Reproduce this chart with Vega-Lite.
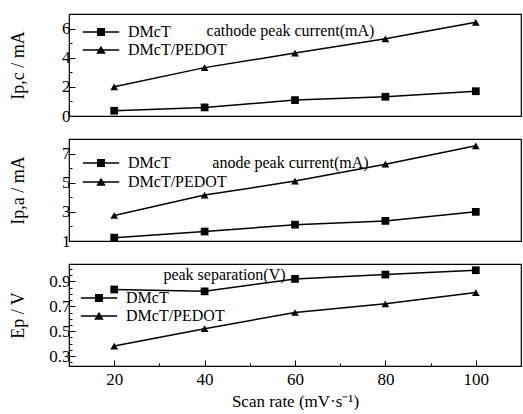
{
  "$schema": "https://vega.github.io/schema/vega-lite/v6.json",
  "background": "white",
  "padding": {"left": 8, "top": 13, "right": 0, "bottom": 0},
  "spacing": 13,
  "datasets": {
    "cathode": [
      {"series": "DMcT", "rate": 20, "value": 0.36},
      {"series": "DMcT", "rate": 40, "value": 0.59},
      {"series": "DMcT", "rate": 60, "value": 1.09},
      {"series": "DMcT", "rate": 80, "value": 1.32},
      {"series": "DMcT", "rate": 100, "value": 1.7},
      {"series": "DMcT/PEDOT", "rate": 20, "value": 2.0},
      {"series": "DMcT/PEDOT", "rate": 40, "value": 3.32},
      {"series": "DMcT/PEDOT", "rate": 60, "value": 4.32},
      {"series": "DMcT/PEDOT", "rate": 80, "value": 5.3},
      {"series": "DMcT/PEDOT", "rate": 100, "value": 6.43}
    ],
    "anode": [
      {"series": "DMcT", "rate": 20, "value": 1.23},
      {"series": "DMcT", "rate": 40, "value": 1.65},
      {"series": "DMcT", "rate": 60, "value": 2.12},
      {"series": "DMcT", "rate": 80, "value": 2.38},
      {"series": "DMcT", "rate": 100, "value": 3.0},
      {"series": "DMcT/PEDOT", "rate": 20, "value": 2.75},
      {"series": "DMcT/PEDOT", "rate": 40, "value": 4.15},
      {"series": "DMcT/PEDOT", "rate": 60, "value": 5.11},
      {"series": "DMcT/PEDOT", "rate": 80, "value": 6.27},
      {"series": "DMcT/PEDOT", "rate": 100, "value": 7.53}
    ],
    "sep": [
      {"series": "DMcT", "rate": 20, "value": 0.835},
      {"series": "DMcT", "rate": 40, "value": 0.82},
      {"series": "DMcT", "rate": 60, "value": 0.92},
      {"series": "DMcT", "rate": 80, "value": 0.955},
      {"series": "DMcT", "rate": 100, "value": 0.99},
      {"series": "DMcT/PEDOT", "rate": 20, "value": 0.38},
      {"series": "DMcT/PEDOT", "rate": 40, "value": 0.52},
      {"series": "DMcT/PEDOT", "rate": 60, "value": 0.65},
      {"series": "DMcT/PEDOT", "rate": 80, "value": 0.72},
      {"series": "DMcT/PEDOT", "rate": 100, "value": 0.81}
    ]
  },
  "vconcat": [
    {
      "width": 452, "height": 102,
      "data": {"name": "cathode"},
      "encoding": {
        "x": {"field": "rate", "type": "quantitative", "scale": {"domain": [10, 110], "nice": false}, "axis": null},
        "y": {"field": "value", "type": "quantitative", "scale": {"domain": [0, 7], "nice": false, "zero": false},
          "axis": {"title": "Ip,c / mA", "titleX": -51, "titleY": 51, "titleBaseline": "middle", "titleFontSize": 18, "format": "d",
            "values": [0, 0.5, 1, 1.5, 2, 2.5, 3, 3.5, 4, 4.5, 5, 5.5, 6, 6.5],
            "labelExpr": "datum.value % 2 === 0 ? datum.label : ''",
            "tickSize": {"condition": {"test": "datum.value % 2 === 0", "value": -6}, "value": -3},
            "labelPadding": 5, "labelFontSize": 17}}
      },
      "layer": [
        {"mark": {"type": "line", "color": "black", "strokeWidth": 1.5}, "encoding": {"detail": {"field": "series"}}},
        {"mark": {"type": "point", "filled": true, "color": "black", "opacity": 1, "size": 60},
          "encoding": {"shape": {"field": "series", "type": "nominal", "scale": {"domain": ["DMcT", "DMcT/PEDOT"], "range": ["square", "triangle-up"]}, "legend": null}}},
        {"mark": {"type": "point", "filled": true, "color": "black", "opacity": 0},
          "encoding": {"shape": {"field": "series", "type": "nominal",
            "scale": {"domain": ["DMcT", "DMcT/PEDOT"], "range": ["M-2.6,-0.1L2.6,-0.1L2.6,0.1L-2.6,0.1ZM-0.57,-0.57L0.57,-0.57L0.57,0.57L-0.57,0.57Z", "M-2.6,-0.1L2.6,-0.1L2.6,0.1L-2.6,0.1ZM0,-0.62L0.68,0.52L-0.68,0.52Z"]},
            "legend": {"orient": "none", "legendX": 24, "legendY": 10, "title": null, "padding": 0, "labelFontSize": 16, "labelColor": "black",
              "symbolSize": 196, "symbolStrokeWidth": 0, "symbolFillColor": "black", "symbolOpacity": 1, "labelOffset": 19, "rowPadding": 2,
              "encode": {"symbols": {"fill": {"value": "black"}, "opacity": {"value": 1}}}}}}},
        {"data": {"values": [{"label": "cathode peak current(mA)", "rate": 59, "value": 5.86}]},
          "mark": {"type": "text", "fontSize": 16, "color": "black", "baseline": "middle"},
          "encoding": {"text": {"field": "label"}}}
      ],
      "resolve": {"scale": {"shape": "independent"}}
    },
    {
      "width": 452, "height": 102,
      "data": {"name": "anode"},
      "encoding": {
        "x": {"field": "rate", "type": "quantitative", "scale": {"domain": [10, 110], "nice": false}, "axis": null},
        "y": {"field": "value", "type": "quantitative", "scale": {"domain": [1, 8], "nice": false, "zero": false},
          "axis": {"title": "Ip,a / mA", "titleX": -51, "titleY": 51, "titleBaseline": "middle", "titleFontSize": 18, "format": "d",
            "values": [1, 1.5, 2, 2.5, 3, 3.5, 4, 4.5, 5, 5.5, 6, 6.5, 7, 7.5],
            "labelExpr": "datum.value % 2 === 1 ? datum.label : ''",
            "tickSize": {"condition": {"test": "datum.value % 2 === 1", "value": -6}, "value": -3},
            "labelPadding": 5, "labelFontSize": 17}}
      },
      "layer": [
        {"mark": {"type": "line", "color": "black", "strokeWidth": 1.5}, "encoding": {"detail": {"field": "series"}}},
        {"mark": {"type": "point", "filled": true, "color": "black", "opacity": 1, "size": 60},
          "encoding": {"shape": {"field": "series", "type": "nominal", "scale": {"domain": ["DMcT", "DMcT/PEDOT"], "range": ["square", "triangle-up"]}, "legend": null}}},
        {"mark": {"type": "point", "filled": true, "color": "black", "opacity": 0},
          "encoding": {"shape": {"field": "series", "type": "nominal",
            "scale": {"domain": ["DMcT", "DMcT/PEDOT"], "range": ["M-2.6,-0.1L2.6,-0.1L2.6,0.1L-2.6,0.1ZM-0.57,-0.57L0.57,-0.57L0.57,0.57L-0.57,0.57Z", "M-2.6,-0.1L2.6,-0.1L2.6,0.1L-2.6,0.1ZM0,-0.62L0.68,0.52L-0.68,0.52Z"]},
            "legend": {"orient": "none", "legendX": 24, "legendY": 16, "title": null, "padding": 0, "labelFontSize": 16, "labelColor": "black",
              "symbolSize": 196, "symbolStrokeWidth": 0, "symbolFillColor": "black", "symbolOpacity": 1, "labelOffset": 19, "rowPadding": 3,
              "encode": {"symbols": {"fill": {"value": "black"}, "opacity": {"value": 1}}}}}}},
        {"data": {"values": [{"label": "anode peak current(mA)", "rate": 59, "value": 6.35}]},
          "mark": {"type": "text", "fontSize": 16, "color": "black", "baseline": "middle"},
          "encoding": {"text": {"field": "label"}}}
      ],
      "resolve": {"scale": {"shape": "independent"}}
    },
    {
      "width": 452, "height": 102,
      "data": {"name": "sep"},
      "encoding": {
        "x": {"field": "rate", "type": "quantitative", "scale": {"domain": [10, 110], "nice": false},
          "axis": {"title": "Scan rate (mV·s⁻¹)", "titleFontSize": 17, "titlePadding": 6,
            "values": [20, 30, 40, 50, 60, 70, 80, 90, 100],
            "labelExpr": "datum.value % 20 === 0 ? datum.label : ''",
            "tickSize": {"condition": {"test": "datum.value % 20 === 0", "value": -6}, "value": -3},
            "labelPadding": 11, "labelFontSize": 17}},
        "y": {"field": "value", "type": "quantitative", "scale": {"domain": [0.22, 1.04], "nice": false, "zero": false},
          "axis": {"title": "Ep / V", "titleX": -51, "titleY": 51, "titleBaseline": "middle", "titleFontSize": 18, "format": ".1f",
            "values": [0.25, 0.3, 0.35, 0.4, 0.45, 0.5, 0.55, 0.6, 0.65, 0.7, 0.75, 0.8, 0.85, 0.9, 0.95, 1.0],
            "labelExpr": "round(datum.value * 100) % 20 === 10 ? datum.label : ''",
            "tickSize": {"condition": {"test": "round(datum.value * 100) % 20 === 10", "value": -6}, "value": -3},
            "labelPadding": 5, "labelFontSize": 17}}
      },
      "layer": [
        {"mark": {"type": "line", "color": "black", "strokeWidth": 1.5}, "encoding": {"detail": {"field": "series"}}},
        {"mark": {"type": "point", "filled": true, "color": "black", "opacity": 1, "size": 60},
          "encoding": {"shape": {"field": "series", "type": "nominal", "scale": {"domain": ["DMcT", "DMcT/PEDOT"], "range": ["square", "triangle-up"]}, "legend": null}}},
        {"mark": {"type": "point", "filled": true, "color": "black", "opacity": 0},
          "encoding": {"shape": {"field": "series", "type": "nominal",
            "scale": {"domain": ["DMcT", "DMcT/PEDOT"], "range": ["M-2.6,-0.1L2.6,-0.1L2.6,0.1L-2.6,0.1ZM-0.57,-0.57L0.57,-0.57L0.57,0.57L-0.57,0.57Z", "M-2.6,-0.1L2.6,-0.1L2.6,0.1L-2.6,0.1ZM0,-0.62L0.68,0.52L-0.68,0.52Z"]},
            "legend": {"orient": "none", "legendX": 22, "legendY": 26, "title": null, "padding": 0, "labelFontSize": 16, "labelColor": "black",
              "symbolSize": 196, "symbolStrokeWidth": 0, "symbolFillColor": "black", "symbolOpacity": 1, "labelOffset": 19, "rowPadding": 2,
              "encode": {"symbols": {"fill": {"value": "black"}, "opacity": {"value": 1}}}}}}},
        {"data": {"values": [{"label": "peak separation(V)", "rate": 44.4, "value": 0.954}]},
          "mark": {"type": "text", "fontSize": 16, "color": "black", "baseline": "middle"},
          "encoding": {"text": {"field": "label"}}}
      ],
      "resolve": {"scale": {"shape": "independent"}}
    }
  ],
  "resolve": {"scale": {"shape": "independent"}, "legend": {"shape": "independent"}},
  "config": {
    "font": "Liberation Serif, Times New Roman, serif",
    "text": {"font": "Liberation Serif, Times New Roman, serif"},
    "legend": {"labelFont": "Liberation Serif, Times New Roman, serif"},
    "view": {"stroke": "black", "strokeWidth": 1.2},
    "axis": {"domain": false, "grid": false, "labelFont": "Liberation Serif, Times New Roman, serif", "titleFont": "Liberation Serif, Times New Roman, serif", "tickColor": "black", "labelColor": "black", "titleColor": "black", "titleFontWeight": "normal", "tickWidth": 1}
  }
}
